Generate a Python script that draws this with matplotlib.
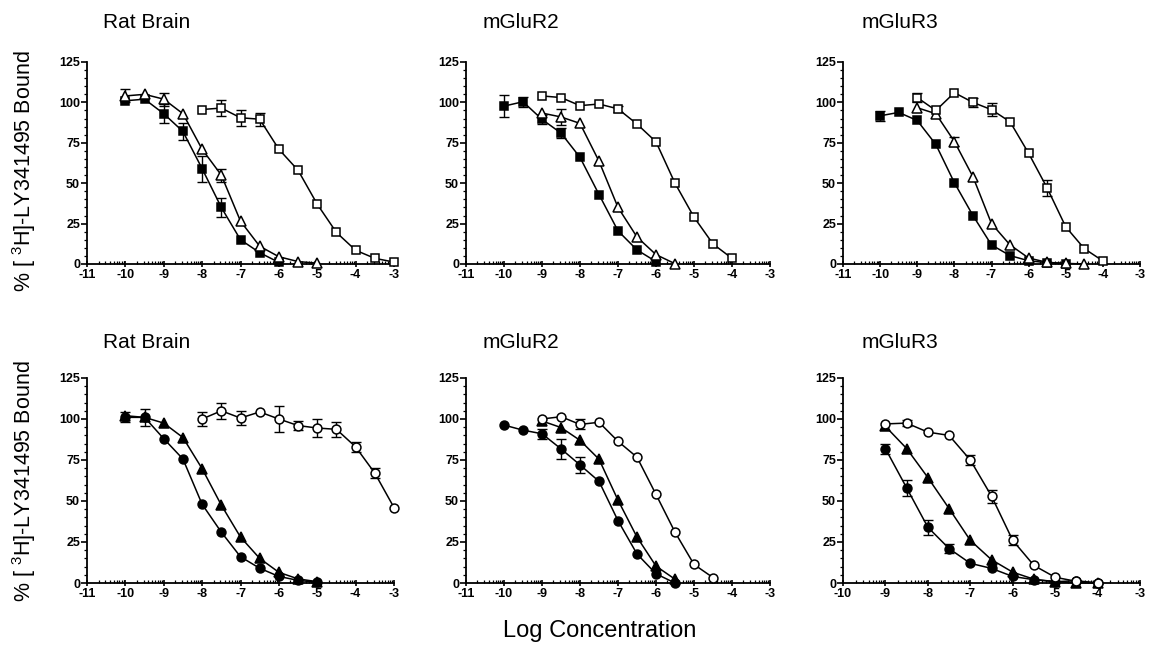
import numpy as np
import matplotlib
matplotlib.use("Agg")
import matplotlib.pyplot as plt
from matplotlib.ticker import FixedLocator

plt.rcParams['font.family'] = ['Liberation Sans', 'DejaVu Sans']
plt.rcParams['mathtext.fontset'] = 'custom'
plt.rcParams['mathtext.rm'] = 'Liberation Sans'
plt.rcParams['mathtext.it'] = 'Liberation Sans'

# ---------------- data ----------------
titles_top = ["Rat Brain", "mGluR2", "mGluR3"]
titles_bottom = ["Rat Brain", "mGluR2", "mGluR3"]

# Top row, Rat Brain
rb1_sq_filled_x = [-10, -9.5, -9, -8.5, -8, -7.5, -7, -6.5, -6]
rb1_sq_filled_y = [101, 102, 93, 82, 59, 35, 15, 7, 1]
rb1_sq_filled_e = [0, 0, 6, 5, 8, 6, 0, 0, 0]
rb1_tri_open_x = [-10, -9.5, -9, -8.5, -8, -7.5, -7, -6.5, -6, -5.5, -5]
rb1_tri_open_y = [104, 105, 102, 93, 71, 55, 26.5, 11, 4.5, 1.5, 0.5]
rb1_tri_open_e = [4, 0, 4, 0, 0, 4, 0, 0, 0, 0, 0]
rb1_sq_open_x = [-8, -7.5, -7, -6.5, -6, -5.5, -5, -4.5, -4, -3.5, -3]
rb1_sq_open_y = [95.6, 96.5, 90.5, 89.6, 71, 58, 37, 19.5, 8.5, 3.5, 1.2]
rb1_sq_open_e = [0, 5, 5, 4, 0, 0, 0, 0, 0, 0, 0]

# Top row, mGluR2
r2a_sq_filled_x = [-10, -9.5, -9, -8.5, -8, -7.5, -7, -6.5, -6]
r2a_sq_filled_y = [97.7, 100.4, 89.5, 81, 66, 43, 20.5, 8.7, 1.5]
r2a_sq_filled_e = [7, 3, 3, 3, 0, 0, 0, 0, 0]
r2a_tri_open_x = [-9, -8.5, -8, -7.5, -7, -6.5, -6, -5.5]
r2a_tri_open_y = [93.4, 91, 87, 63.6, 35, 16.7, 5.8, 0.2]
r2a_tri_open_e = [0, 5, 0, 0, 0, 0, 0, 0]
r2a_sq_open_x = [-9, -8.5, -8, -7.5, -7, -6.5, -6, -5.5, -5, -4.5, -4]
r2a_sq_open_y = [104, 103, 98, 99, 96, 86.6, 75.6, 50, 29, 12.4, 3.5]
r2a_sq_open_e = [0, 0, 0, 0, 2, 0, 0, 0, 0, 0, 0]

# Top row, mGluR3
r3a_sq_filled_x = [-10, -9.5, -9, -8.5, -8, -7.5, -7, -6.5, -6, -5.5, -5]
r3a_sq_filled_y = [91.7, 93.8, 88.8, 74, 50.3, 30, 11.8, 5.2, 2, 0.8, 0.3]
r3a_sq_filled_e = [3, 0, 0, 0, 0, 0, 0, 0, 0, 0, 0]
r3a_tri_open_x = [-9, -8.5, -8, -7.5, -7, -6.5, -6, -5.5, -5, -4.5]
r3a_tri_open_y = [96.7, 93, 75.8, 54, 25, 11.8, 3.7, 1, 0.4, 0]
r3a_tri_open_e = [0, 0, 3, 0, 0, 0, 0, 0, 0, 0]
r3a_sq_open_x = [-9, -8.5, -8, -7.5, -7, -6.5, -6, -5.5, -5, -4.5, -4]
r3a_sq_open_y = [103, 95, 106, 100, 95.5, 88, 68.5, 47, 23, 9.5, 1.9]
r3a_sq_open_e = [3, 0, 0, 3, 4, 0, 0, 5, 0, 0, 0]

# Bottom row, Rat Brain
rb2_ci_filled_x = [-10, -9.5, -9, -8.5, -8, -7.5, -7, -6.5, -6, -5.5, -5]
rb2_ci_filled_y = [101, 101, 88, 75.6, 48, 31, 16, 9, 4, 1.6, 0.4]
rb2_ci_filled_e = [3, 5, 0, 0, 0, 0, 0, 0, 0, 0, 0]
rb2_tri_filled_x = [-10, -9.5, -9, -8.5, -8, -7.5, -7, -6.5, -6, -5.5, -5]
rb2_tri_filled_y = [102, 101, 97.5, 88.7, 69.7, 47.5, 28, 15, 6.5, 2.5, 0.8]
rb2_tri_filled_e = [0, 0, 0, 0, 0, 0, 0, 0, 0, 0, 0]
rb2_ci_open_x = [-8, -7.5, -7, -6.5, -6, -5.5, -5, -4.5, -4, -3.5, -3]
rb2_ci_open_y = [100, 105, 100.6, 104.3, 100, 96, 94.5, 93.7, 83, 67, 46]
rb2_ci_open_e = [4, 5, 4.5, 0, 8, 3, 5.5, 4.5, 3, 3, 0]

# Bottom row, mGluR2
r2b_ci_filled_x = [-10, -9.5, -9, -8.5, -8, -7.5, -7, -6.5, -6, -5.5]
r2b_ci_filled_y = [96.3, 93.2, 91, 81.8, 72, 62, 38, 17.7, 5.6, 0]
r2b_ci_filled_e = [0, 0, 3, 6, 5, 0, 0, 0, 0, 0]
r2b_tri_filled_x = [-9, -8.5, -8, -7.5, -7, -6.5, -6, -5.5]
r2b_tri_filled_y = [98.8, 94.8, 87, 75.5, 50.5, 28, 10.3, 2.3]
r2b_tri_filled_e = [0, 0, 0, 0, 0, 0, 0, 0]
r2b_ci_open_x = [-9, -8.5, -8, -7.5, -7, -6.5, -6, -5.5, -5, -4.5]
r2b_ci_open_y = [100, 101.4, 96.7, 98, 86.4, 76.7, 54, 31, 11.3, 3.3]
r2b_ci_open_e = [0, 0, 3, 0, 0, 0, 0, 0, 0, 0]

# Bottom row, mGluR3
r3b_ci_filled_x = [-9, -8.5, -8, -7.5, -7, -6.5, -6, -5.5, -5, -4.5, -4]
r3b_ci_filled_y = [81.9, 58, 34, 21, 12, 8.9, 4, 2, 0.8, 1.4, 0]
r3b_ci_filled_e = [3, 5, 4.5, 3, 0, 0, 0, 0, 0, 0, 0]
r3b_tri_filled_x = [-9, -8.5, -8, -7.5, -7, -6.5, -6, -5.5, -5, -4.5, -4]
r3b_tri_filled_y = [95.5, 82, 64.3, 45.4, 26, 14.2, 6.6, 2.3, 0.8, 0.2, 0]
r3b_tri_filled_e = [0, 0, 0, 0, 0, 0, 0, 0, 0, 0, 0]
r3b_ci_open_x = [-9, -8.5, -8, -7.5, -7, -6.5, -6, -5.5, -5, -4.5, -4]
r3b_ci_open_y = [97, 97.5, 92, 90, 75, 53, 26, 10.7, 3.5, 1, 0]
r3b_ci_open_e = [0, 2, 0, 0, 3, 4, 3, 0, 0, 0, 0]

xlims = [(-11, -3), (-11, -3), (-11, -3), (-11, -3), (-11, -3), (-10, -3)]

panels = [
    [(rb1_sq_filled_x, rb1_sq_filled_y, rb1_sq_filled_e, 's', 'black'),
     (rb1_tri_open_x, rb1_tri_open_y, rb1_tri_open_e, '^', 'white'),
     (rb1_sq_open_x, rb1_sq_open_y, rb1_sq_open_e, 's', 'white')],
    [(r2a_sq_filled_x, r2a_sq_filled_y, r2a_sq_filled_e, 's', 'black'),
     (r2a_tri_open_x, r2a_tri_open_y, r2a_tri_open_e, '^', 'white'),
     (r2a_sq_open_x, r2a_sq_open_y, r2a_sq_open_e, 's', 'white')],
    [(r3a_sq_filled_x, r3a_sq_filled_y, r3a_sq_filled_e, 's', 'black'),
     (r3a_tri_open_x, r3a_tri_open_y, r3a_tri_open_e, '^', 'white'),
     (r3a_sq_open_x, r3a_sq_open_y, r3a_sq_open_e, 's', 'white')],
    [(rb2_ci_filled_x, rb2_ci_filled_y, rb2_ci_filled_e, 'o', 'black'),
     (rb2_tri_filled_x, rb2_tri_filled_y, rb2_tri_filled_e, '^', 'black'),
     (rb2_ci_open_x, rb2_ci_open_y, rb2_ci_open_e, 'o', 'white')],
    [(r2b_ci_filled_x, r2b_ci_filled_y, r2b_ci_filled_e, 'o', 'black'),
     (r2b_tri_filled_x, r2b_tri_filled_y, r2b_tri_filled_e, '^', 'black'),
     (r2b_ci_open_x, r2b_ci_open_y, r2b_ci_open_e, 'o', 'white')],
    [(r3b_ci_filled_x, r3b_ci_filled_y, r3b_ci_filled_e, 'o', 'black'),
     (r3b_tri_filled_x, r3b_tri_filled_y, r3b_tri_filled_e, '^', 'black'),
     (r3b_ci_open_x, r3b_ci_open_y, r3b_ci_open_e, 'o', 'white')],
]

# ---------------- figure ----------------
W, H = 1149, 654
fig = plt.figure(figsize=(W / 100, H / 100), dpi=100)

lefts = [87, 466, 843]
widths = [307, 304, 297]
rows = [(62, 264), (378, 583)]
title_x = [103, 483, 862]
title_y = [22, 342]

for i in range(6):
    r, c = divmod(i, 3)
    top, bot = rows[r]
    ax = fig.add_axes([lefts[c] / W, 1 - bot / H, widths[c] / W, (bot - top) / H])
    for (x, y, e, m, fc) in panels[i]:
        x = np.array(x); y = np.array(y); e = np.array(e)
        ms = 6.4 if m == 's' else (6.8 if m == '^' else 6.4)
        ax.plot(x, y, '-', color='black', lw=1.1, zorder=2, clip_on=False)
        sel = e > 0
        if sel.any():
            ax.errorbar(x[sel], y[sel], yerr=e[sel], fmt='none', ecolor='black',
                        elinewidth=1.0, capsize=3.5, capthick=1.0, zorder=3, clip_on=False)
        ax.plot(x, y, linestyle='none', marker=m, ms=ms, mfc=fc, mec='black',
                mew=1.1, zorder=4, clip_on=False)
    x0, x1 = xlims[i]
    ax.set_xlim(x0, x1)
    ax.set_ylim(0, 125)
    ax.spines['top'].set_visible(False)
    ax.spines['right'].set_visible(False)
    for s in ('left', 'bottom'):
        ax.spines[s].set_linewidth(1.3)
    ax.set_yticks([0, 25, 50, 75, 100, 125])
    ax.yaxis.set_minor_locator(FixedLocator(np.arange(0, 126, 5)))
    xt = np.arange(x0, x1 + 1, 1)
    ax.set_xticks(xt)
    minors = [n + np.log10(k) for n in range(x0, x1) for k in range(2, 10)]
    ax.xaxis.set_minor_locator(FixedLocator(minors))
    ax.tick_params(axis='y', which='major', direction='out', length=4, width=1.2, pad=1)
    ax.tick_params(axis='y', which='minor', direction='out', length=2.5, width=0.9)
    ax.tick_params(axis='x', which='major', direction='inout', length=5, width=1.2, pad=1)
    ax.tick_params(axis='x', which='minor', direction='in', length=2.5, width=0.9)
    ax.set_yticklabels([str(v) for v in [0, 25, 50, 75, 100, 125]], fontweight='bold', fontsize=9)
    ax.set_xticklabels([str(int(v)) for v in xt], fontweight='bold', fontsize=9)
    tl = titles_top[c] if r == 0 else titles_bottom[c]
    fig.text(title_x[c] / W, 1 - title_y[r] / H, tl, fontsize=15, ha='left', va='center')

ylabel = r'% [ $^{3}$H]-LY341495 Bound'
fig.text(24 / W, 1 - 171 / H, ylabel, rotation=90, fontsize=15.5, ha='center', va='center')
fig.text(24 / W, 1 - 481 / H, ylabel, rotation=90, fontsize=15.5, ha='center', va='center')
fig.text(600 / W, 1 - 631 / H, 'Log Concentration', fontsize=17, ha='center', va='center')

fig.savefig('out.png', dpi=100)
